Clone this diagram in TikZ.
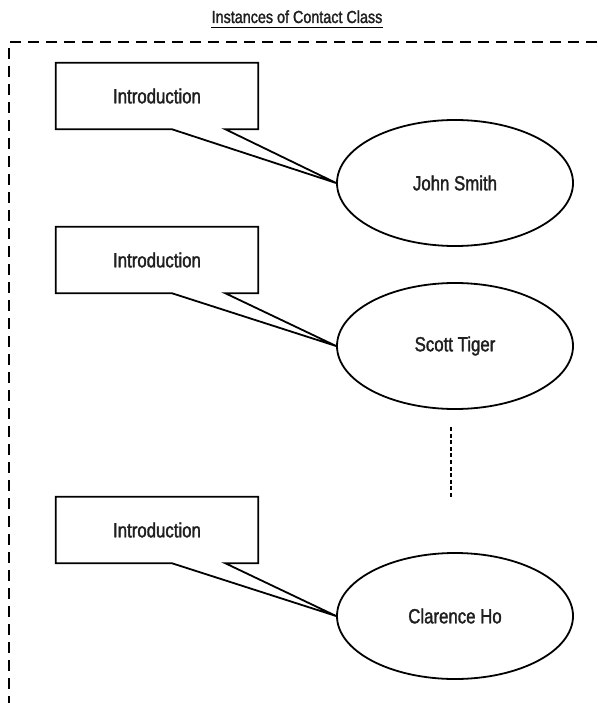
\documentclass[tikz,border=0pt]{standalone}
\usepackage{fontspec}
\setmainfont{Liberation Sans}[FakeStretch=0.82, FakeBold=1.6]
\usetikzlibrary{shapes.geometric,calc}

\tikzset{
  label text/.style={font=\fontsize{20.5}{22}\selectfont, text=black!88},
  introbox/.style={rectangle, minimum width=202pt, minimum height=66pt, inner sep=0pt, label text},
  contact/.style={ellipse, draw, line width=1.8pt, minimum width=236pt, minimum height=126pt, inner sep=0pt, label text},
  callout/.style={draw, line width=1.8pt, line join=miter},
  frame/.style={line width=2.2pt, dash pattern=on 11pt off 7pt},
  ellipsis/.style={line width=2.8pt, dash pattern=on 4pt off 2.6pt}
}

\begin{document}
\begin{tikzpicture}[x=1pt, y=-1pt]
  \useasboundingbox (0,0) rectangle (597,703);

  % heading with its underline
  \node[inner sep=0pt, anchor=base, font=\fontsize{17.5}{19}\selectfont, text=black!88] (title) at (297,23) {Instances of Contact Class};
  \draw[line width=1.4pt] ([yshift=-4.5pt]title.base west) -- ([yshift=-4.5pt]title.base east);

  % open dashed frame (top and left sides)
  \coordinate (frameTR) at (597,42);
  \coordinate (frameTL) at (9,42);
  \coordinate (frameBL) at (9,703);
  \draw[frame] (frameTR) -- (frameTL) -- (frameBL);

  % contact instances
  \node[contact] (john)     at (455,183) {John Smith};
  \node[contact] (scott)    at (455,346) {Scott Tiger};
  \node[contact] (clarence) at (455,616) {Clarence Ho};

  % introduction callouts
  \node[introbox] (intro1) at (157,96)  {Introduction};
  \node[introbox] (intro2) at (157,260) {Introduction};
  \node[introbox] (intro3) at (157,530) {Introduction};

  \foreach \bx/\who in {intro1/john, intro2/scott, intro3/clarence} {
    \draw[callout]
      ([xshift=116pt]\bx.south west) -- (\bx.south west) -- (\bx.north west)
      -- (\bx.north east) -- (\bx.south east) -- ([xshift=-33pt]\bx.south east)
      -- (\who.west) -- cycle;
  }

  % vertical ellipsis between instances
  \coordinate (dotsTop) at (451,427);
  \coordinate (dotsBot) at (451,497);
  \draw[ellipsis] (dotsTop) -- (dotsBot);
\end{tikzpicture}
\end{document}
